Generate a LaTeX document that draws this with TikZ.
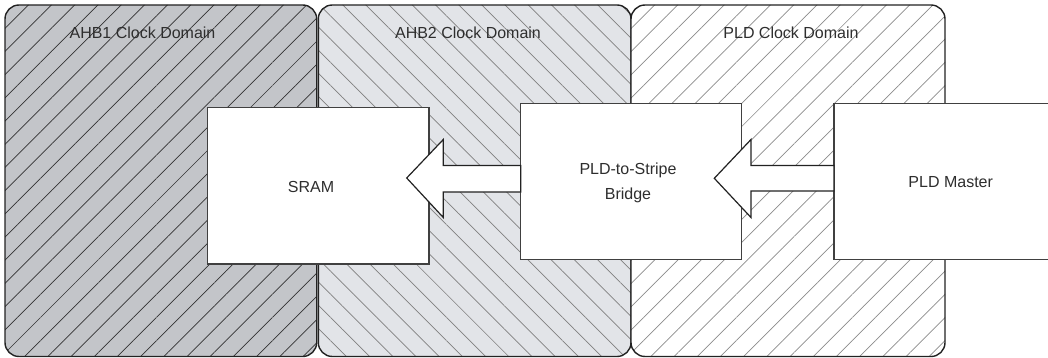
\documentclass[tikz,border=0pt]{standalone}
\usepackage{fontspec}
\setmainfont{Liberation Sans}
\usetikzlibrary{patterns.meta}
\definecolor{domainA}{HTML}{C3C5C9}
\definecolor{domainB}{HTML}{E2E4E8}
\definecolor{edge}{HTML}{222222}
\definecolor{boxedge}{HTML}{404040}
\definecolor{ink}{HTML}{2E2E2E}
\tikzset{
  clkdomain/.style={draw=edge, line width=1.4pt, rounded corners=14pt},
  hatchNE/.style={pattern={Lines[angle=45,distance=16.4pt,line width=0.7pt]}},
  hatchNW/.style={pattern={Lines[angle=-45,distance=16.4pt,line width=0.7pt]}},
  dlabel/.style={text=ink, font=\fontsize{16}{19}\selectfont, anchor=center},
  blockbox/.style={draw=boxedge, fill=white, line width=1.2pt},
  btext/.style={text=ink, font=\fontsize{16}{25}\selectfont, align=center},
  blockarrow/.style={draw=edge, fill=white, line width=1.2pt, line join=miter},
}
\begin{document}
\begin{tikzpicture}[x=1pt,y=-1pt]
\useasboundingbox (0,0) rectangle (1048,358);

% clock domains
\path[clkdomain, preaction={fill=domainA}, hatchNE, pattern color=black!80]
  (5,5) rectangle (316.7,356.5);
\path[clkdomain, preaction={fill=domainB}, hatchNW, pattern color=black!50]
  (318.3,5) rectangle (631,356.5);
\path[clkdomain, preaction={fill=white}, hatchNE, pattern color=black!45]
  (631,5) rectangle (945,356.5);

\node[dlabel] (l1) at (142.5,33) {AHB1 Clock Domain};
\node[dlabel] (l2) at (468,33) {AHB2 Clock Domain};
\node[dlabel] (l3) at (791,33) {PLD Clock Domain};

% functional blocks
\draw[blockbox] (207.7,107.7) rectangle (429,264);
\node[btext] (sramt) at (311,187) {SRAM};

\draw[blockbox] (520.7,103.3) rectangle (741.7,259.3);
\node[btext] (bridget) at (628,182.5) {PLD-to-Stripe\\Bridge};

\draw[blockbox] (834,103.3) rectangle (1060,259.3);
\node[btext] (mastert) at (950.7,182) {PLD Master};

% data-flow arrows
\coordinate (tip1) at (406.7,178);
\coordinate (base1) at (520.7,178);
\draw[blockarrow] (tip1) -- (443.3,139.5) -- (443.3,165.5) -- (base1 |- 0,165.5)
  -- (base1 |- 0,192) -- (443.3,192) -- (443.3,217.5) -- cycle;

\coordinate (tip2) at (714.3,178.3);
\coordinate (base2) at (834,178.3);
\draw[blockarrow] (tip2) -- (751,139.5) -- (751,165.5) -- (base2 |- 0,165.5)
  -- (base2 |- 0,191) -- (751,191) -- (751,217.5) -- cycle;
\end{tikzpicture}
\end{document}
